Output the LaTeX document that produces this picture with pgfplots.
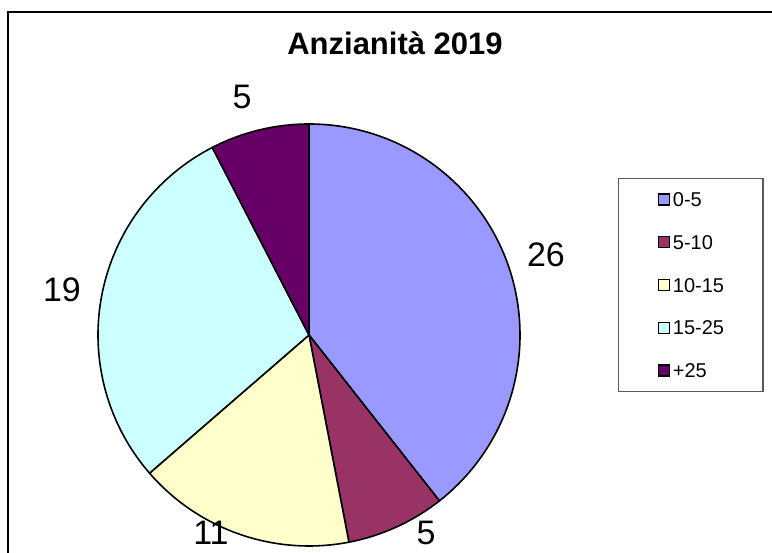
\documentclass[border=0pt]{standalone}
\usepackage{fontspec}
\setmainfont{Liberation Sans}
\usepackage{pgfplots}
\usepackage{pgfplotstable}
\pgfplotsset{compat=1.18}

% Excel 2003 palette
\definecolor{pie0}{HTML}{9999FF}
\definecolor{pie1}{HTML}{993366}
\definecolor{pie2}{HTML}{FFFFCC}
\definecolor{pie3}{HTML}{CCFFFF}
\definecolor{pie4}{HTML}{660066}

% slices clockwise from 12 o'clock; lx/ly = label baseline (px, origin bottom left)
\pgfplotstableread{
name  value lx  ly
0-5   26    546 286
5-10  5     426 8
10-15 11    211 8
15-25 19    62  251
+25   5     242 444
}\pietable

\begin{document}
\begin{tikzpicture}[lbl/.style={anchor=base, font=\fontsize{34}{40}\selectfont}]
% start/end angles of each slice
\def\pietotal{0}
\pgfplotsforeachungrouped \i in {0,...,4}{%
  \pgfplotstablegetelem{\i}{value}\of\pietable
  \pgfmathsetmacro\pietotal{\pietotal+\pgfplotsretval}%
}
\def\pieacc{0}
\pgfplotsforeachungrouped \i in {0,...,4}{%
  \pgfplotstablegetelem{\i}{value}\of\pietable \let\v\pgfplotsretval
  \pgfmathsetmacro\s{90-\pieacc/\pietotal*360}%
  \pgfmathsetmacro\pieacc{\pieacc+\v}%
  \pgfmathsetmacro\e{90-\pieacc/\pietotal*360}%
  \expandafter\xdef\csname pieS\i\endcsname{\s}%
  \expandafter\xdef\csname pieE\i\endcsname{\e}%
  \expandafter\xdef\csname pieV\i\endcsname{\v}%
  \pgfplotstablegetelem{\i}{name}\of\pietable
  \expandafter\xdef\csname pieN\i\endcsname{\pgfplotsretval}%
  \pgfplotstablegetelem{\i}{lx}\of\pietable
  \expandafter\xdef\csname pieX\i\endcsname{\pgfplotsretval}%
  \pgfplotstablegetelem{\i}{ly}\of\pietable
  \expandafter\xdef\csname pieY\i\endcsname{\pgfplotsretval}%
}
\begin{axis}[
    x=1pt, y=1pt,
    xmin=0, xmax=772, ymin=0, ymax=553,
    scale only axis, hide axis, clip=true,
    at={(0,0)}, anchor=south west,
    legend cell align=left,
    legend image code/.code={\draw[#1, line width=1.3pt] (0pt,-5.5pt) rectangle (11pt,5.5pt);},
    legend style={
        at={(0.8005,0.6781)}, anchor=north west,
        draw=black!65, line width=1.3pt,
        font=\fontsize{20}{24}\selectfont,
        inner xsep=39pt, inner ysep=13.8pt,
        row sep=28.4pt, column sep=3pt,
        nodes={inner sep=0pt, text height=14.3pt, text depth=0pt}
    },
]

% chart frame (right and bottom edges fall outside the picture)
\draw[black, line width=1.6pt] (axis cs:8,0) -- (axis cs:8,541) -- (axis cs:780,541);

\node[anchor=base, font=\bfseries\fontsize{31}{36}\selectfont] at (axis cs:395,498) {Anzianità 2019};

\pgfplotsinvokeforeach{0,...,4}{
  \edef\temp{\noexpand\filldraw[fill=pie#1, draw=black, line width=1.6pt, line join=round]
    (axis cs:309,218) -- ++(\csname pieS#1\endcsname:211pt)
    arc[start angle=\csname pieS#1\endcsname, end angle=\csname pieE#1\endcsname, radius=211pt] -- cycle;}
  \temp
  \edef\temp{\noexpand\node[lbl] at (axis cs:\csname pieX#1\endcsname,\csname pieY#1\endcsname) {\csname pieV#1\endcsname};}
  \temp
  \addlegendimage{fill=pie#1, draw=black}
  \edef\temp{\noexpand\addlegendentry{\csname pieN#1\endcsname}}
  \temp
}

\end{axis}
\pgfresetboundingbox
\path (0,0) rectangle (772pt,553pt);
\end{tikzpicture}
\end{document}
